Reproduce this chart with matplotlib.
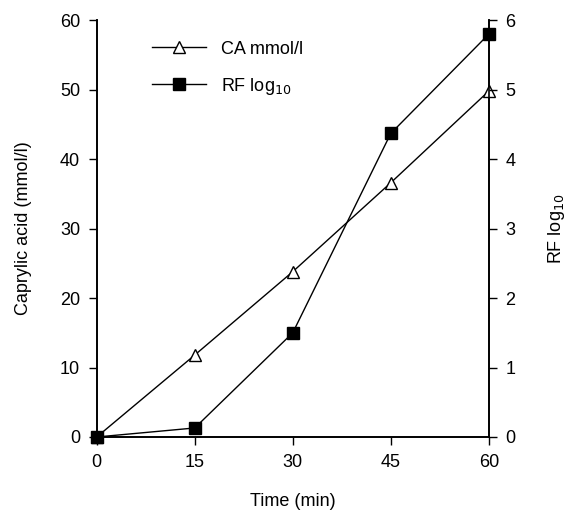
import matplotlib
matplotlib.use("Agg")
import matplotlib.pyplot as plt

plt.rcParams['font.family'] = ['Liberation Sans', 'DejaVu Sans']

time = [0, 15, 30, 45, 60]
ca = [0, 11.8, 23.8, 36.6, 49.8]
rf = [0, 0.13, 1.5, 4.37, 5.8]
xticks = [0, 15, 30, 45, 60]
yticks_left = [0, 10, 20, 30, 40, 50, 60]
yticks_right = [0, 1, 2, 3, 4, 5, 6]

fig = plt.figure(figsize=(5.69, 5.19), dpi=100)
ax = fig.add_axes([0.170, 0.158, 0.689, 0.803])
ax2 = ax.twinx()

l1, = ax.plot(time, ca, color='black', lw=1.0, marker='^', markersize=9,
              markerfacecolor='white', markeredgecolor='black', markeredgewidth=1.0,
              label='CA mmol/l', clip_on=False, zorder=3)
l2, = ax2.plot(time, rf, color='black', lw=1.0, marker='s', markersize=8,
               markerfacecolor='black', markeredgecolor='black',
               label='RF log$_{10}$', clip_on=False, zorder=3)

ax.set_xlim(0, 60)
ax.set_ylim(0, 60)
ax2.set_ylim(0, 6)
ax.set_xticks(xticks)
ax.set_yticks(yticks_left)
ax2.set_yticks(yticks_right)

for a in (ax, ax2):
    a.spines['top'].set_visible(False)
    a.spines['left'].set_linewidth(1.2)
    a.spines['right'].set_linewidth(1.2)
    a.spines['bottom'].set_linewidth(1.2)
    a.tick_params(direction='out', length=6, width=1.0, labelsize=13, pad=6)
    a.set_facecolor('none')

ax.set_xlabel('Time (min)', fontsize=13, labelpad=16)
ax.set_ylabel('Caprylic acid (mmol/l)', fontsize=13, labelpad=20)
ax2.set_ylabel('RF log$_{10}$', fontsize=13, labelpad=22)

leg = ax.legend([l1, l2], ['CA mmol/l', 'RF log$_{10}$'], loc='upper left',
                bbox_to_anchor=(0.10, 0.99), frameon=False, fontsize=13,
                handlelength=3.0, labelspacing=1.0, handletextpad=0.8)

fig.savefig('out.png', dpi=100)
